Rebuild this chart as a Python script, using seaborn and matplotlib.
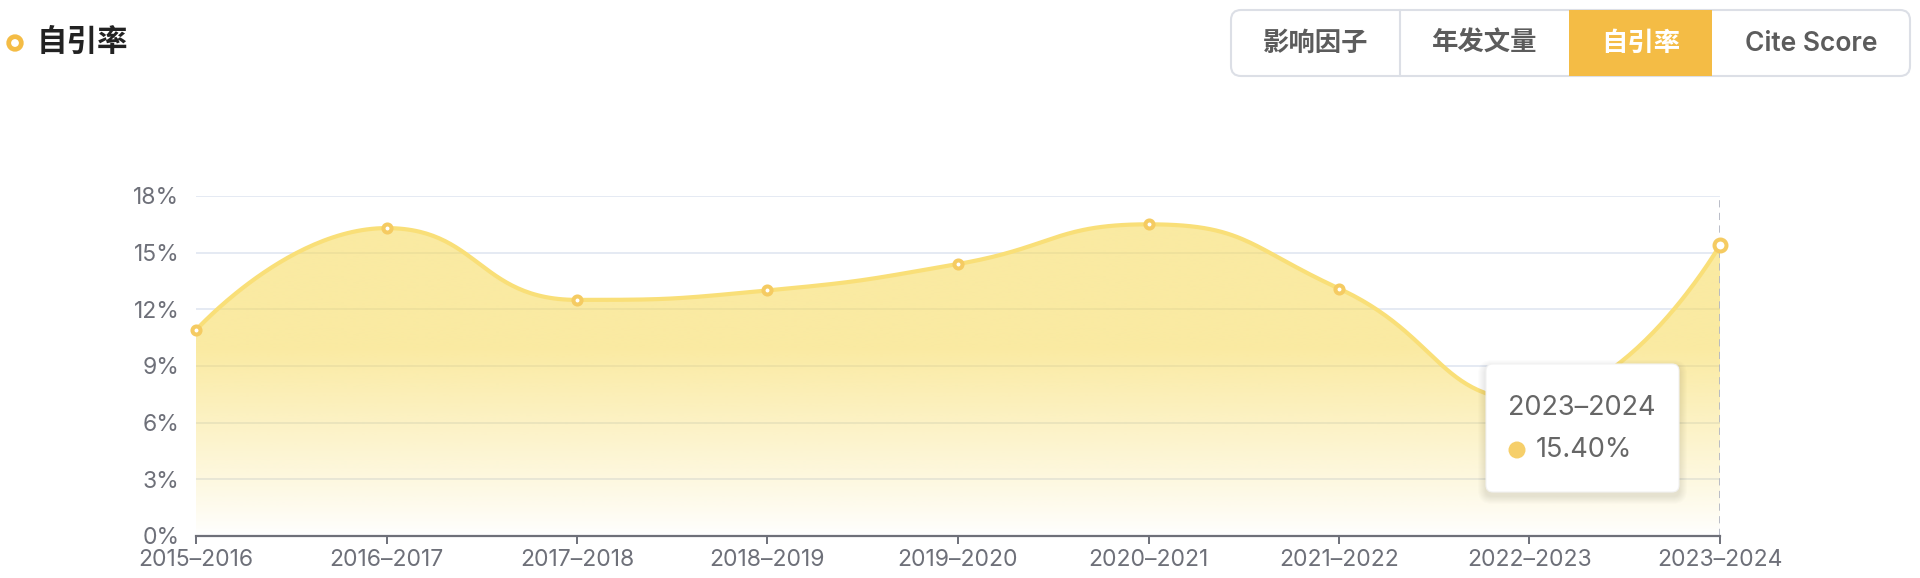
import numpy as np
import pandas as pd
import seaborn as sns
import matplotlib.pyplot as plt
from matplotlib.patches import FancyBboxPatch, Circle, Rectangle, Polygon

# data
years = ['2015–2016', '2016–2017', '2017–2018', '2018–2019', '2019–2020',
         '2020–2021', '2021–2022', '2022–2023', '2023–2024']
rates = [10.9, 16.3, 12.5, 13.0, 14.4, 16.5, 13.1, 7.2, 15.4]
y_ticks = [0, 3, 6, 9, 12, 15, 18]
title = '自引率'
buttons = ['影响因子', '年发文量', '自引率', 'Cite Score']
active_button = '自引率'
tip_label = years[-1]
tip_value = rates[-1]

df = pd.DataFrame({'year': years, 'rate': rates})
df['pos'] = np.arange(len(df))

sns.set_theme(style='white')
plt.rcParams['font.family'] = ['Inter', 'Noto Sans CJK SC', 'DejaVu Sans']

W, H = 1920, 578
fig = plt.figure(figsize=(W / 100, H / 100), dpi=100)
ax = fig.add_axes([196 / W, 42 / H, 1524 / W, 340 / H])
ax.set_xlim(0, len(years) - 1)
ax.set_ylim(0, 18)


def smooth_curve(ax, xs, ys, smooth=0.5, n=60):
    # bezier smoothing with extreme constraint (like echarts smooth: true)
    pts = ax.transData.transform(np.column_stack([xs, ys]))
    k = len(pts)
    t = np.linspace(0, 1, n)[:, None]
    segs = []
    cp0 = pts[0].copy()
    for i in range(1, k):
        prev, cur = pts[i - 1], pts[i]
        if i == k - 1:
            cp1 = cur.copy()
            nxt_cp0 = cur.copy()
        else:
            nxt = pts[i + 1]
            v = nxt - prev
            l0 = np.hypot(*(cur - prev))
            l1 = np.hypot(*(nxt - cur))
            r = l1 / (l0 + l1)
            nxt_cp0 = cur + v * smooth * r
            nxt_cp0 = np.minimum(nxt_cp0, np.maximum(nxt, cur))
            nxt_cp0 = np.maximum(nxt_cp0, np.minimum(nxt, cur))
            cp1 = cur - (nxt_cp0 - cur) * l0 / l1
            cp1 = np.minimum(cp1, np.maximum(prev, cur))
            cp1 = np.maximum(cp1, np.minimum(prev, cur))
            nxt_cp0 = cur + (cur - cp1) * l1 / l0
        b = ((1 - t) ** 3) * prev + 3 * ((1 - t) ** 2) * t * cp0 + 3 * (1 - t) * t ** 2 * cp1 + t ** 3 * cur
        segs.append(b if i == 1 else b[1:])
        cp0 = nxt_cp0
    curve = np.vstack(segs)
    data = ax.transData.inverted().transform(curve)
    return data[:, 0], data[:, 1]


xc, yc = smooth_curve(ax, df['pos'].values, df['rate'].values)

# grid + axis styling
ax.set_axisbelow(True)
ax.yaxis.grid(True, color='#e0e6f1', lw=1.2)
ax.xaxis.grid(False)
for s in ['top', 'right', 'left']:
    ax.spines[s].set_visible(False)
ax.spines['bottom'].set_color('#6e7079')
ax.spines['bottom'].set_linewidth(1.6)
ax.set_yticks(y_ticks)
ax.set_yticklabels([f'{v}%' for v in y_ticks])
ax.set_xticks(df['pos'])
ax.set_xticklabels(years)
ax.tick_params(axis='y', length=0, pad=12, labelsize=16.5, labelcolor='#6e7079')
ax.tick_params(axis='x', direction='out', length=6, width=1.4, color='#6e7079',
               pad=3, labelsize=16.5, labelcolor='#6e7079', bottom=True)

# gradient area
top = max(rates)
gy = np.linspace(0, top, 300)
alpha = 0.56 * np.clip(gy / 10.0, 0, 1) ** 0.9
rgba = np.zeros((300, 2, 4))
rgba[..., 0] = 247 / 255
rgba[..., 1] = 218 / 255
rgba[..., 2] = 88 / 255
rgba[..., 3] = alpha[:, None]
im = ax.imshow(rgba, extent=[0, len(years) - 1, 0, top], origin='lower',
               aspect='auto', interpolation='bilinear', zorder=1)
verts = np.vstack([[xc[0], 0], np.column_stack([xc, yc]), [xc[-1], 0]])
clip = Polygon(verts, closed=True, facecolor='none', edgecolor='none', transform=ax.transData)
ax.add_patch(clip)
im.set_clip_path(clip)
ax.set_xlim(0, len(years) - 1)
ax.set_ylim(0, 18)

# hover line
ax.axvline(len(years) - 1, color='#b4b8c4', lw=1.3, ls=(0, (4, 3)), zorder=2)

# the line
ax.plot(xc, yc, color='#f9df78', lw=3, solid_capstyle='round', zorder=3)

sns.scatterplot(data=df.iloc[:-1], x='pos', y='rate', ax=ax, s=5.8 ** 2, color='white',
                edgecolor='#f5cb62', linewidth=2.9, zorder=4, legend=False, clip_on=False)
sns.scatterplot(data=df.iloc[-1:], x='pos', y='rate', ax=ax, s=8.6 ** 2, color='white',
                edgecolor='#f5cb62', linewidth=2.9, zorder=4, legend=False, clip_on=False)
ax.set_xlabel('')
ax.set_ylabel('')
ax.set_xlim(0, len(years) - 1)
ax.set_ylim(0, 18)

# overlay in pixel coords for header, buttons and tooltip
ov = fig.add_axes([0, 0, 1, 1], zorder=10)
ov.set_xlim(0, W)
ov.set_ylim(H, 0)
ov.axis('off')
ov.patch.set_alpha(0)

ov.add_patch(Circle((15, 43), 6.3, facecolor='white', edgecolor='#f4bc45', lw=3.4))
ov.text(37, 42, title, fontsize=22, fontweight='bold', color='#222222',
        va='center', ha='left')

# button group
bx = [1231, 1400, 1569, 1712, 1910]
by0, by1 = 10, 76
ov.add_patch(FancyBboxPatch((bx[0], by0), bx[-1] - bx[0], by1 - by0,
                            boxstyle='round,pad=0,rounding_size=10',
                            facecolor='white', edgecolor='#dcdfe6', lw=1.5))
for i, lab in enumerate(buttons):
    cx = (bx[i] + bx[i + 1]) / 2
    if lab == active_button:
        ov.add_patch(Rectangle((bx[i], by0), bx[i + 1] - bx[i], by1 - by0,
                               facecolor='#f4bc45', edgecolor='none', zorder=3))
        col = 'white'
    else:
        col = '#5c5c5c'
    if 0 < i and lab != active_button and buttons[i - 1] != active_button:
        ov.plot([bx[i], bx[i]], [by0, by1], color='#dcdfe6', lw=1.5)
    ov.text(cx, 44, lab, fontsize=19, fontweight='semibold', color=col,
            ha='center', va='center', zorder=4)

# tooltip
tx0, ty0, tx1, ty1 = 1486, 364, 1679, 492
for k in range(8, 0, -1):
    ov.add_patch(FancyBboxPatch((tx0 - k, ty0 - k + 4), tx1 - tx0 + 2 * k, ty1 - ty0 + 2 * k,
                                boxstyle='round,pad=0,rounding_size=%d' % (6 + k),
                                facecolor='#000000', edgecolor='none', alpha=0.012))
ov.add_patch(FancyBboxPatch((tx0, ty0), tx1 - tx0, ty1 - ty0,
                            boxstyle='round,pad=0,rounding_size=7',
                            facecolor='white', edgecolor='#f2f2f2', lw=0.8))
ov.text(1508, 408, tip_label, fontsize=19.5, color='#666666', ha='left', va='center')
ov.add_patch(Circle((1517, 450), 8.5, facecolor='#f6cf6a', edgecolor='none'))
ov.text(1536, 450, f'{tip_value:.2f}%', fontsize=19.5, color='#666666', ha='left', va='center')

fig.savefig('out.png', dpi=100)
